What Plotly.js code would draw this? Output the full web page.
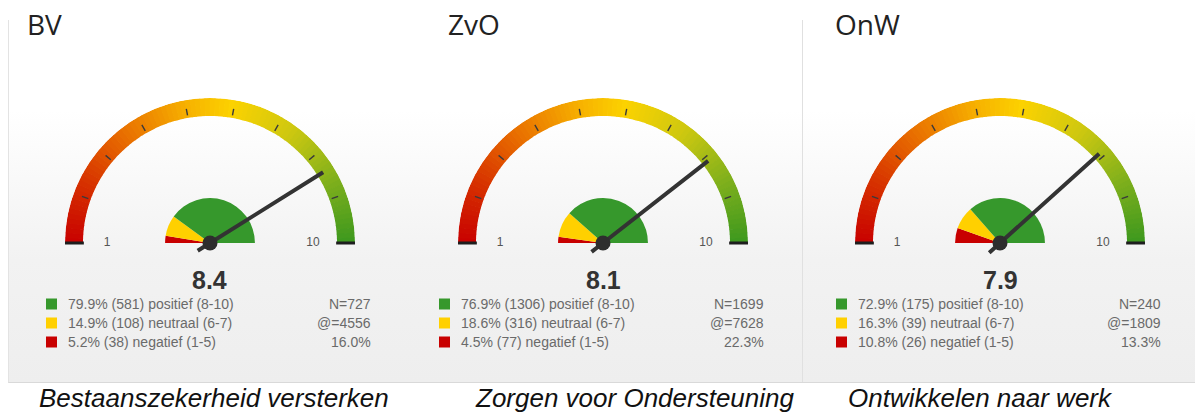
<!DOCTYPE html>
<html><head><meta charset="utf-8">
<script src="https://cdn.plot.ly/plotly-3.0.1.min.js"></script>
<style>
html,body{margin:0;padding:0;background:#fff;}
#wrap{position:relative;width:1195px;height:414px;overflow:hidden;background:#fff;}
#bg{position:absolute;left:8px;top:20px;width:1187px;height:363px;box-sizing:border-box;border-left:1px solid #e3e3e3;border-bottom:1px solid #d9d9d9;background:linear-gradient(to bottom,#ffffff 0px,#ffffff 90px,#f2f2f2 240px,#eeeeee 363px);}
#sep{position:absolute;left:802px;top:20px;width:1px;height:362px;background:#e0e0e0;}
#chart{position:absolute;left:0;top:0;width:1195px;height:414px;}
</style></head>
<body>
<div id="wrap"><div id="bg"></div><div id="sep"></div><div id="chart"></div></div>
<script>
// ---- data ----
const panelCodes = ['BV', 'ZvO', 'OnW'];
const panelNames = ['Bestaanszekerheid versterken', 'Zorgen voor Ondersteuning', 'Ontwikkelen naar werk'];
const scores = [8.4, 8.1, 7.9];
const pctPos = [79.9, 76.9, 72.9];
const pctNeu = [14.9, 18.6, 16.3];
const pctNeg = [5.2, 4.5, 10.8];
const cntPos = [581, 1306, 175];
const cntNeu = [108, 316, 39];
const cntNeg = [38, 77, 26];
const respN = [727, 1699, 240];
const invited = [4556, 7628, 1809];
const respRate = [16.0, 22.3, 13.3];
const classLabels = ['positief (8-10)', 'neutraal (6-7)', 'negatief (1-5)'];
const scaleMin = 1, scaleMax = 10;
const tickVals = [1, 2, 3, 4, 5, 6, 7, 8, 9, 10];
const tickLabels = ['1', '10'];

// ---- style ----
const W = 1195, H = 414;
const centers = [210, 603, 1000];
const titleX = [25, 446, 833];
const capX = [37, 473, 846];
const R = 145, CY = 243;
const colPos = '#36982c', colNeu = '#ffd000', colNeg = '#c80000';
const gradStops = [
  [0.00, [200, 0, 0]], [0.14, [214, 48, 0]], [0.30, [234, 116, 0]],
  [0.45, [247, 178, 0]], [0.55, [252, 210, 0]], [0.70, [206, 200, 16]],
  [0.85, [128, 176, 28]], [1.00, [60, 152, 30]]
];
function gradColor(f) {
  for (let i = 1; i < gradStops.length; i++) {
    if (f <= gradStops[i][0]) {
      const a = gradStops[i - 1], b = gradStops[i];
      const t = (f - a[0]) / (b[0] - a[0]);
      const c = a[1].map((v, k) => Math.round(v + (b[1][k] - v) * t));
      return 'rgb(' + c.join(',') + ')';
    }
  }
  return 'rgb(60,152,30)';
}
const toTheta = v => (v - scaleMin) / (scaleMax - scaleMin) * 180;
const px = x => x / W, py = y => 1 - y / H;

const data = [], annotations = [], shapes = [];
const layout = {
  width: W, height: H, margin: {l: 0, r: 0, t: 0, b: 0},
  paper_bgcolor: 'rgba(0,0,0,0)', plot_bgcolor: 'rgba(0,0,0,0)',
  showlegend: false, annotations: annotations, shapes: shapes,
  font: {family: 'Liberation Sans, Arial, sans-serif'}
};

const nSeg = 90;
const segTheta = [], segCol = [];
for (let i = 0; i < nSeg; i++) {
  const f = (i + 0.5) / nSeg;
  segTheta.push(f * 180);
  segCol.push(gradColor(f));
}

for (let p = 0; p < 3; p++) {
  const sp = p === 0 ? 'polar' : 'polar' + (p + 1);
  const c = centers[p];
  layout[sp] = {
    domain: {x: [px(c - R), px(c + R)], y: [py(CY + R), py(CY - R)]},
    bgcolor: 'rgba(0,0,0,0)',
    radialaxis: {visible: false, range: [0, 1]},
    angularaxis: {visible: false, rotation: 180, direction: 'clockwise'}
  };
  data.push({type: 'barpolar', subplot: sp, theta: segTheta, r: segTheta.map(() => 0.124),
    base: 0.876, width: 180 / nSeg + 0.3,
    marker: {color: segCol, line: {width: 0}}, hoverinfo: 'skip'});
  const wNeg = pctNeg[p] * 1.8, wNeu = pctNeu[p] * 1.8, wPos = pctPos[p] * 1.8;
  data.push({type: 'barpolar', subplot: sp,
    theta: [wNeg / 2, wNeg + wNeu / 2, wNeg + wNeu + wPos / 2],
    width: [wNeg, wNeu, wPos], r: [0.31, 0.31, 0.31], base: 0,
    marker: {color: [colNeg, colNeu, colPos], line: {width: 0}}, hoverinfo: 'skip'});
  const tr = [], tt = [];
  tickVals.slice(1, -1).forEach(v => { tr.push(0.893, 0.94, null); tt.push(toTheta(v), toTheta(v), null); });
  data.push({type: 'scatterpolar', subplot: sp, mode: 'lines', r: tr, theta: tt,
    line: {color: '#3a3a3a', width: 1.4}, hoverinfo: 'skip', connectgaps: false});
  data.push({type: 'scatterpolar', subplot: sp, mode: 'lines',
    r: [0.87, 1.0, null, 0.87, 1.0], theta: [toTheta(scaleMin), toTheta(scaleMin), null, toTheta(scaleMax), toTheta(scaleMax)],
    line: {color: '#1e1e1e', width: 3}, hoverinfo: 'skip', connectgaps: false});
  data.push({type: 'scatterpolar', subplot: sp, mode: 'text', r: [0.71, 0.71],
    theta: [toTheta(scaleMin), toTheta(scaleMax)], text: tickLabels, textposition: 'middle center',
    textfont: {size: 12, color: '#555', family: 'Liberation Sans, Arial, sans-serif'}, cliponaxis: false, hoverinfo: 'skip'});
  const th = toTheta(scores[p]);
  data.push({type: 'scatterpolar', subplot: sp, mode: 'lines',
    r: [0.1, 0, 0.92], theta: [th + 180, th, th],
    line: {color: '#333333', width: 4}, hoverinfo: 'skip'});
  data.push({type: 'scatterpolar', subplot: sp, mode: 'markers', r: [0], theta: [0],
    marker: {size: 15, color: '#2e2e2e'}, cliponaxis: false, hoverinfo: 'skip'});

  annotations.push({xref: 'paper', yref: 'paper', x: px(titleX[p]), y: py(24), xanchor: 'left', yanchor: 'middle',
    text: panelCodes[p], showarrow: false, font: {family: 'Open Sans, sans-serif', size: 28, color: '#222'}});
  annotations.push({xref: 'paper', yref: 'paper', x: px(c), y: py(280), xanchor: 'center', yanchor: 'middle',
    text: '<b>' + scores[p].toFixed(1) + '</b>', showarrow: false, font: {size: 25, color: '#333'}});
  const rowsL = [
    pctPos[p].toFixed(1) + '% (' + cntPos[p] + ') ' + classLabels[0],
    pctNeu[p].toFixed(1) + '% (' + cntNeu[p] + ') ' + classLabels[1],
    pctNeg[p].toFixed(1) + '% (' + cntNeg[p] + ') ' + classLabels[2]
  ];
  const rowsR = ['N=' + respN[p], '@=' + invited[p], respRate[p].toFixed(1) + '%'];
  const rowCols = [colPos, colNeu, colNeg];
  const rowY = [304, 323, 342];
  for (let k = 0; k < 3; k++) {
    shapes.push({type: 'rect', xref: 'paper', yref: 'paper', x0: px(c - 164), x1: px(c - 153),
      y0: py(rowY[k] + 5.5), y1: py(rowY[k] - 5.5), fillcolor: rowCols[k], line: {width: 0}});
    annotations.push({xref: 'paper', yref: 'paper', x: px(c - 144), y: py(rowY[k]), xanchor: 'left', yanchor: 'middle',
      text: rowsL[k], showarrow: false, font: {size: 14, color: '#6a6a6a'}});
    annotations.push({xref: 'paper', yref: 'paper', x: px(c + 163), y: py(rowY[k]), xanchor: 'right', yanchor: 'middle',
      text: rowsR[k], showarrow: false, font: {size: 14, color: '#6a6a6a'}});
  }
}
for (let p = 0; p < 3; p++) {
  annotations.push({xref: 'paper', yref: 'paper', x: px(capX[p]), y: py(398), xanchor: 'left', yanchor: 'middle',
    text: '<i>' + panelNames[p] + '</i>', showarrow: false,
    font: {family: 'Liberation Sans, Arial, sans-serif', size: 26, color: '#111'}});
}
Plotly.newPlot('chart', data, layout, {staticPlot: true, displayModeBar: false});
</script>
</body></html>
